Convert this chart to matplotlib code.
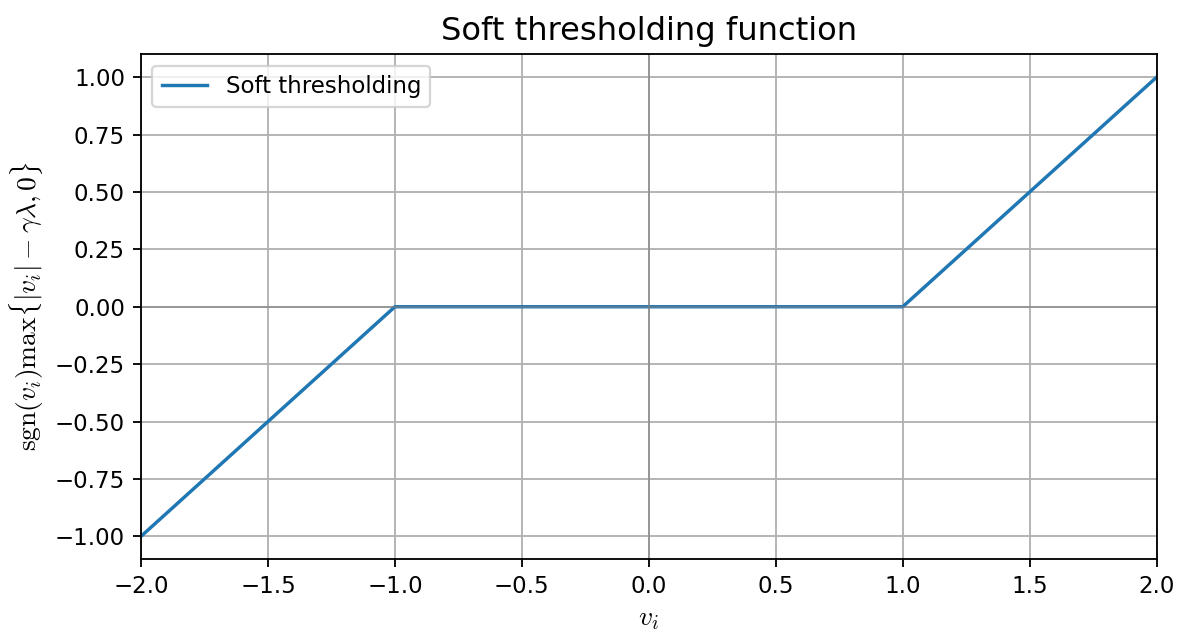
import numpy as np
import matplotlib.pyplot as plt

plt.rcParams['mathtext.fontset'] = 'cm'

# breakpoints of the soft thresholding curve (gamma*lambda = 1)
v = [-2.0, -1.0, 1.0, 2.0]
soft = [-1.0, 0.0, 0.0, 1.0]

DPI = 165
fig = plt.figure(figsize=(1177 / DPI, 630 / DPI), dpi=DPI)
ax = fig.add_subplot(111)
fig.subplots_adjust(left=0.1198, right=0.9827, top=0.914, bottom=0.1122)

ax.plot(v, soft, color='#1f77b4', lw=1.5, label='Soft thresholding')
ax.axhline(0, color='grey', lw=0.8, alpha=0.6)
ax.axvline(0, color='grey', lw=0.8, alpha=0.6)

ax.set_xlim(-2, 2)
ax.set_ylim(-1.1, 1.1)
ax.set_title('Soft thresholding function', fontsize=14)
ax.set_xlabel(r'$v_i$', fontsize=12, labelpad=2.5)
ax.set_ylabel(r'$\mathrm{sgn}(v_i)\max\{|v_i| - \gamma\lambda, 0\}$', fontsize=12)
ax.grid(True)
ax.legend(loc='upper left')

fig.savefig('out.png', dpi=DPI)
